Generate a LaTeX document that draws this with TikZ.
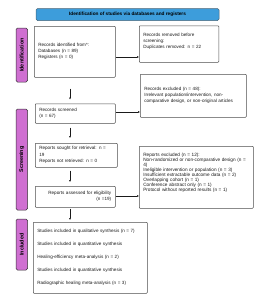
\documentclass[tikz,border=0pt]{standalone}
\usepackage{fontspec}
\setmainfont{Liberation Sans}
\usetikzlibrary{arrows.meta}
\definecolor{pbanner}{HTML}{3D9DDB}
\definecolor{pphase}{HTML}{CF6FD1}
\definecolor{pborder}{HTML}{4D4D4D}
\definecolor{ptext}{HTML}{1A1A1A}

\begin{document}
\begin{tikzpicture}[
  x=2pt, y=-2pt,
  >={Triangle[length=4pt, width=3.6pt]},
  banner/.style={
    draw=pborder!70!pbanner, fill=pbanner, line width=1pt,
    rounded corners=3pt, minimum width=366pt, minimum height=24pt,
    inner sep=0pt, font=\fontsize{9.5}{11}\selectfont\bfseries
  },
  phase/.style={
    draw=black!80, fill=pphase, line width=1pt, rounded corners=3pt,
    minimum height=23pt, inner sep=0pt, rotate=90,
    font=\fontsize{10.8}{12}\selectfont\bfseries
  },
  box/.style={
    draw=pborder, line width=1pt, rounded corners=1.5pt,
    anchor=north west, inner xsep=8pt, inner ysep=3pt,
    align=left, text=ptext, font=\fontsize{9.2}{12}\selectfont
  },
  arr/.style={->, draw=ptext, line width=1pt},
]
  \useasboundingbox (0,0) rectangle (260,300);

  \node[banner] (title) at (127.5,14.5)
    {Identification of studies via databases and registers};

  \node[phase, minimum width=108pt] (idphase)  at (21.75,55)    {Identification};
  \node[phase, minimum width=202pt] (scrphase) at (21.75,159.5) {Screening};
  \node[phase, minimum width=102pt] (incphase) at (21.75,244.5) {Included};

  \node[box, minimum width=162pt, minimum height=102pt, text width=146pt]
    (identified) at (34,26)
    {Records identified from*:\\Databases (n = 89)\\Registers (n = 0)};
  \node[box, minimum width=159pt, minimum height=73pt, text width=143pt]
    (removed) at (139,25.5)
    {Records removed before\\screening:\\Duplicates removed: n = 22\\\mbox{}};

  \node[box, minimum width=160pt, minimum height=39pt, text width=144pt]
    (screened) at (35,103.5)
    {Records screened\\(n = 67)};
  \node[box, minimum width=212pt, minimum height=86pt, text width=196pt]
    (excl48) at (140,74)
    {Records excluded (n = 48):\\Irrelevant population/intervention, non-\\comparative design, or non-original articles};

  \node[box, minimum width=164pt, minimum height=48pt, text width=148pt,
    font=\fontsize{9.2}{13}\selectfont]
    (sought) at (35,143)
    {Reports sought for retrieval: n =\\19\\Reports not retrieved: n = 0};

  \node[box, align=right, minimum width=160pt, minimum height=42pt, text width=144pt]
    (assessed) at (35,186)
    {Reports assessed for eligibility\\(n =19)};
  \node[box, minimum width=228pt, minimum height=124pt, text width=212pt,
    font=\fontsize{9.4}{10.1}\selectfont]
    (excl12) at (139,146)
    {Reports excluded (n = 12):\\Non-randomized or non-comparative design (n =\\4)\\Ineligible intervention or population (n = 3)\\Insufficient extractable outcome data (n = 2)\\Overlapping cohort (n = 1)\\Conference abstract only (n = 1)\\Protocol without reported results (n = 1)\\\mbox{}\\\mbox{}};

  \node[box, minimum width=228pt, minimum height=142pt, text width=212pt]
    (included) at (33,222)
    {Studies included in qualitative synthesis (n = 7)\\[14pt]Studies included in quantitative synthesis\\[14pt]Healing-efficiency meta-analysis (n = 2)\\[14pt]Studies included in quantitative synthesis\\[14pt]Radiographic healing meta-analysis (n = 3)};

  \draw[arr] (identified.east |- 0,57) -- (removed.west |- 0,57);
  \draw[arr] (screened.east |- 0,112) -- (excl48.west |- 0,112);
  \draw[arr] (assessed.east |- 0,196) -- (excl12.west |- 0,196);

  \draw[arr, shorten <=22pt, shorten >=8pt]
    (identified.south -| 70,0) -- (screened.north -| 70,0);
  \draw[arr, shorten <=8pt, shorten >=10pt]
    (screened.south -| 70,0) -- (sought.north -| 70,0);
  \draw[arr, shorten <=6pt, shorten >=8pt]
    (sought.south -| 70,0) -- (assessed.north -| 70,0);
  \draw[arr, shorten <=2pt, shorten >=4pt]
    (assessed.south -| 70,0) -- (included.north -| 70,0);
\end{tikzpicture}
\end{document}
